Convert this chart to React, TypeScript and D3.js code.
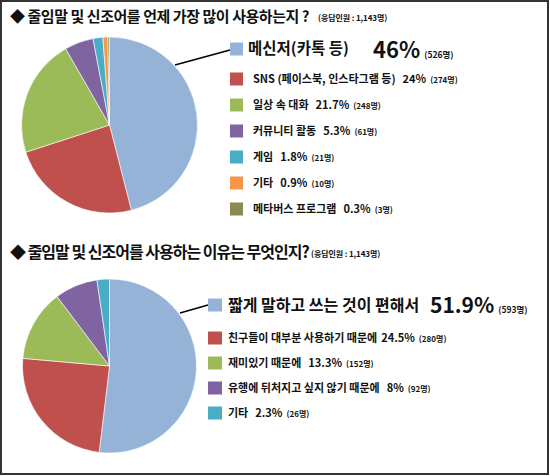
import React from "react";
import * as d3 from "d3";

const W = 550;
const H = 476;

const title1 = "◆ 줄임말 및 신조어를 언제 가장 많이 사용하는지 ?";
const title2 = "◆ 줄임말 및 신조어를 사용하는 이유는 무엇인지?";
const respondents = "(응답인원 : 1,143명)";

const cats1 = ["메신저(카톡 등)", "SNS (페이스북, 인스타그램 등)", "일상 속 대화", "커뮤니티 활동", "게임", "기타", "메타버스 프로그램"];
const pct1 = [46, 24, 21.7, 5.3, 1.8, 0.9, 0.3];
const cnt1 = [526, 274, 248, 61, 21, 10, 3];
const colors1 = ["#95B3D7", "#C0504D", "#9BBB59", "#8064A2", "#4BACC6", "#F79646", "#8C8A54"];

const cats2 = ["짧게 말하고 쓰는 것이 편해서", "친구들이 대부분 사용하기 때문에", "재미있기 때문에", "유행에 뒤처지고 싶지 않기 때문에", "기타"];
const pct2 = [51.9, 24.5, 13.3, 8, 2.3];
const cnt2 = [593, 280, 152, 92, 26];
const colors2 = ["#95B3D7", "#C0504D", "#9BBB59", "#8064A2", "#4BACC6"];

const FONT = "'Noto Sans CJK KR', 'Noto Sans', sans-serif";

function Pie({ cx, cy, r, values, colors }: { cx: number; cy: number; r: number; values: number[]; colors: string[] }) {
  const pie = d3.pie<number>().sort(null).value((d) => d);
  const arc = d3.arc<d3.PieArcDatum<number>>().innerRadius(0).outerRadius(r);
  const arcs = pie(values);
  return (
    <g transform={`translate(${cx},${cy})`}>
      {arcs.map((a, i) => (
        <path key={i} d={arc(a) || ""} fill={colors[i]} stroke="#ffffff" strokeWidth={0.6} />
      ))}
    </g>
  );
}

export default function App() {
  const sq1x = 230;
  const rows1 = [49, 79, 105, 131, 157, 183, 209];
  const sq2x = 208;
  const rows2 = [305, 338, 363, 388, 413];

  return (
    <div style={{ position: "absolute", left: 0, top: 0 }}>
      <svg width={W} height={H} style={{ display: "block", background: "#fff" }} fontFamily={FONT}>
        <rect x={1} y={1} width={W - 3} height={H - 3} fill="#fff" stroke="#333" strokeWidth={2} />

        {/* Title 1 */}
        <text x={10} y={22} fontSize={15} fontWeight="bold" fill="#111" letterSpacing={-0.45}>
          {title1}
        </text>
        <text x={318} y={21} fontSize={8} fontWeight="bold" fill="#111" letterSpacing={-0.1}>
          {respondents}
        </text>

        <Pie cx={109.5} cy={125} r={88} values={pct1} colors={colors1} />
        <line x1={175} y1={65} x2={230} y2={50} stroke="#000" strokeWidth={1.5} />

        {cats1.map((c, i) => {
          const y = rows1[i];
          const big = i === 0;
          return (
            <g key={i}>
              <rect x={sq1x} y={y - 6.5} width={13} height={13} fill={colors1[i]} />
              {big ? (
                <text x={248} y={y + 5} fontSize={15.5} fontWeight="bold" fill="#111">
                  {c}
                  <tspan x={373} y={y + 9} fontSize={22}>{pct1[i]}%</tspan>
                  <tspan dx={4} fontSize={8.5}>({cnt1[i]}명)</tspan>
                </text>
              ) : (
                <text x={253} y={y + 4} fontSize={11} fontWeight="bold" fill="#111">
                  {c}
                  <tspan dx={7}>{pct1[i]}%</tspan>
                  <tspan dx={4} fontSize={8}>({cnt1[i]}명)</tspan>
                </text>
              )}
            </g>
          );
        })}

        {/* Title 2 */}
        <text x={10} y={258} fontSize={16} fontWeight="bold" fill="#111" letterSpacing={-1.0}>
          {title2}
        </text>
        <text x={311} y={257} fontSize={8} fontWeight="bold" fill="#111" letterSpacing={-0.1}>
          {respondents}
        </text>

        <Pie cx={109.5} cy={366} r={87} values={pct2} colors={colors2} />
        <line x1={180} y1={313} x2={208} y2={305} stroke="#000" strokeWidth={1.5} />

        {cats2.map((c, i) => {
          const y = rows2[i];
          const big = i === 0;
          return (
            <g key={i}>
              <rect x={sq2x} y={y - 6.5} width={14} height={13} fill={colors2[i]} />
              {big ? (
                <text x={228} y={y + 6} fontSize={16} fontWeight="bold" fill="#111">
                  {c}
                  <tspan x={430} y={y + 8} fontSize={21}>{pct2[i]}%</tspan>
                  <tspan dx={4} fontSize={8.5}>({cnt2[i]}명)</tspan>
                </text>
              ) : (
                <text x={228} y={y + 4} fontSize={11} fontWeight="bold" fill="#111">
                  {c}
                  <tspan dx={i === 1 ? 4 : 7}>{pct2[i]}%</tspan>
                  <tspan dx={4} fontSize={8}>({cnt2[i]}명)</tspan>
                </text>
              )}
            </g>
          );
        })}
      </svg>
    </div>
  );
}
